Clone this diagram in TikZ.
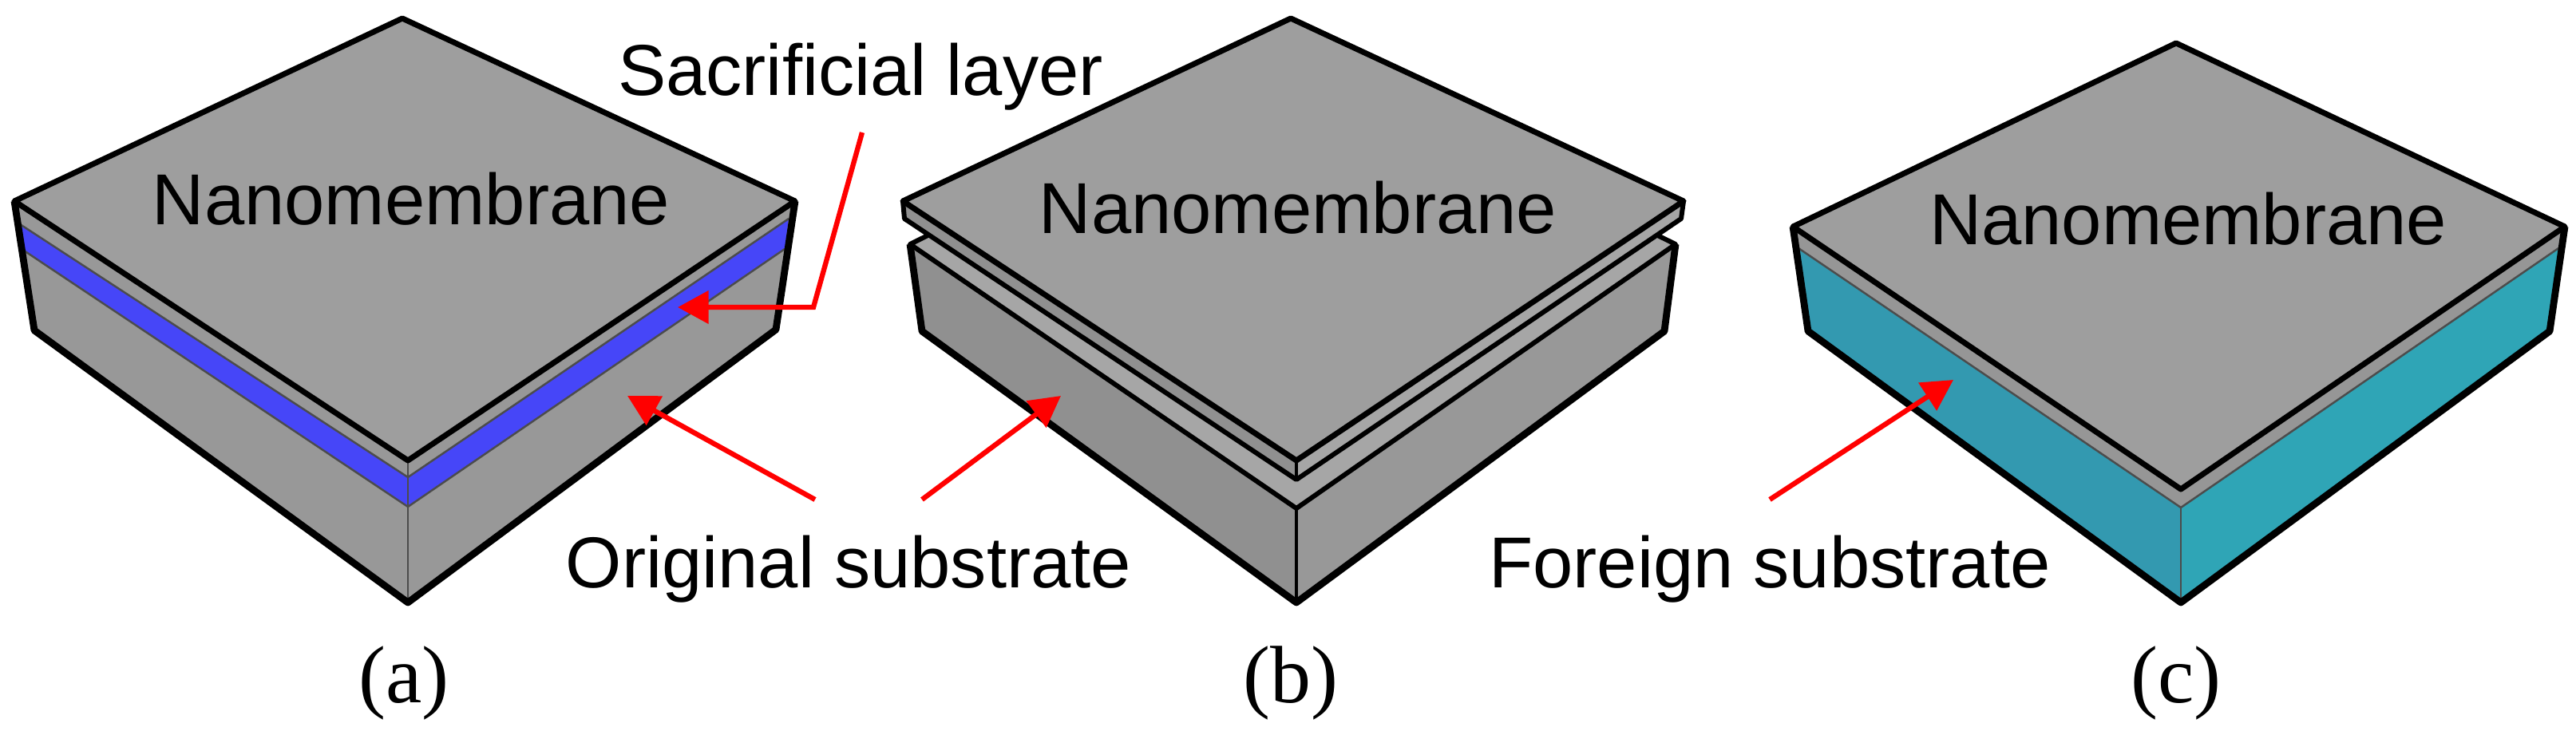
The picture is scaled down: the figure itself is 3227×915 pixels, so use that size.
\documentclass[tikz,border=0pt]{standalone}
\usepackage{fontspec}
\usetikzlibrary{arrows.meta}
\newfontfamily\labelfont{Liberation Sans}
\newfontfamily\captionfont{Liberation Serif}
\definecolor{topgray}{HTML}{9E9E9E}
\definecolor{sidegray}{HTML}{989898}
\definecolor{sidedark}{HTML}{909090}
\definecolor{ledgegray}{HTML}{A6A6A6}
\definecolor{layerblue}{HTML}{4646F8}
\definecolor{tealleft}{HTML}{3399B0}
\definecolor{tealright}{HTML}{2FA5B6}
\tikzset{
    outline/.style={draw=black,line width=2pt,line join=round},
    baseedge/.style={draw=black,line width=2.5pt,line join=round},
    inneredge/.style={draw=black,line width=1.7pt,line join=round},
    seam/.style={draw=black!70,line width=0.7pt},
    textlabel/.style={anchor=base,inner sep=0pt,font=\labelfont\fontsize{25.7}{30}\selectfont},
    sublabel/.style={anchor=base,inner sep=0pt,font=\captionfont\fontsize{29}{33}\selectfont},
    callout/.style={draw=red,line width=1.8pt,-{Triangle[length=11pt,width=11.5pt]}},
}
\begin{document}
\begin{tikzpicture}[x=0.01cm,y=-0.01cm]
    \useasboundingbox (0,0) rectangle (3227,915);

    % (a)
    \fill [sidegray] (18,252) -- (511,577) -- (511,755) -- (43,414) -- cycle;
    \fill [sidegray] (996,252) -- (511,577) -- (511,755) -- (972,413) -- cycle;
    \fill [layerblue] (22,279) -- (511,598) -- (988,274) -- (983,312) -- (511,635) -- (27,312) -- cycle;
    \draw [seam] (22,279) -- (511,598) -- (988,274);
    \draw [seam] (27,312) -- (511,635) -- (983,312);
    \draw [seam] (511,577) -- (511,755);
    \draw [baseedge] (18,252) -- (43,414) -- (511,755) -- (972,413) -- (996,252);
    \draw [outline,fill=topgray] (504,23) -- (996,252) -- (511,577) -- (18,252) -- cycle;

    % (b)
    \fill [sidedark] (1140,306) -- (1624,637) -- (1624,755) -- (1155,415) -- cycle;
    \fill [sidegray] (2099,306) -- (1624,637) -- (1624,755) -- (2085,415) -- cycle;
    \draw [inneredge,fill=ledgegray] (1140,306) -- (1617,70) -- (2099,306) -- (1624,637) -- cycle;
    \draw [line width=1.1pt] (1624,637) -- (1624,755);
    \draw [baseedge] (1140,306) -- (1155,415) -- (1624,755) -- (2085,415) -- (2099,306);
    \fill [sidedark] (1131,252) -- (1133,274) -- (1624,601) -- (1624,577) -- cycle;
    \fill [ledgegray] (2109,252) -- (2106,274) -- (1624,601) -- (1624,577) -- cycle;
    \draw [line width=1.1pt] (1624,577) -- (1624,601);
    \draw [inneredge] (1131,252) -- (1133,274) -- (1624,601) -- (2106,274) -- (2109,252);
    \draw [outline,fill=topgray] (1617,23) -- (2109,252) -- (1624,577) -- (1131,252) -- cycle;

    % (c)
    \fill [tealleft] (2246,284) -- (2732,613) -- (2732,755) -- (2265,415) -- cycle;
    \fill [tealright] (3213,284) -- (2732,613) -- (2732,755) -- (3194,415) -- cycle;
    \fill [topgray!95!black] (2246,284) -- (2732,613) -- (3213,284) -- (3208,309) -- (2732,636) -- (2250,309) -- cycle;
    \draw [seam] (2250,309) -- (2732,636) -- (3208,309);
    \draw [seam] (2732,636) -- (2732,755);
    \draw [baseedge] (2246,284) -- (2265,415) -- (2732,755) -- (3194,415) -- (3213,284);
    \draw [outline,fill=topgray] (2726,54) -- (3213,284) -- (2732,613) -- (2246,284) -- cycle;

    % labels
    \node [textlabel] (membrane a) at (515,281) {Nanomembrane};
    \node [textlabel] (membrane b) at (1626,292) {Nanomembrane};
    \node [textlabel] (membrane c) at (2741,306) {Nanomembrane};
    \node [textlabel] (sacrificial) at (1078,120) {Sacrificial layer};
    \node [textlabel] (original) at (1063,736) {Original substrate};
    \node [textlabel] (foreign) at (2217,736) {Foreign substrate};
    \node [sublabel] (cap a) at (506,880) {(a)};
    \node [sublabel] (cap b) at (1617,880) {(b)};
    \node [sublabel] (cap c) at (2726,880) {(c)};

    % arrows
    \coordinate (sacrificial start) at (1080,166);
    \coordinate (sacrificial bend) at (1019,385);
    \coordinate (sacrificial tip) at (849,385);
    \coordinate (original start a) at (1021,626);
    \coordinate (original tip a) at (786,496);
    \coordinate (original start b) at (1155,626);
    \coordinate (original tip b) at (1329,496);
    \coordinate (foreign start) at (2217,626);
    \coordinate (foreign tip) at (2447,476);
    \draw [callout] (sacrificial start) -- (sacrificial bend) -- (sacrificial tip);
    \draw [callout] (original start a) -- (original tip a);
    \draw [callout] (original start b) -- (original tip b);
    \draw [callout] (foreign start) -- (foreign tip);
\end{tikzpicture}
\end{document}
